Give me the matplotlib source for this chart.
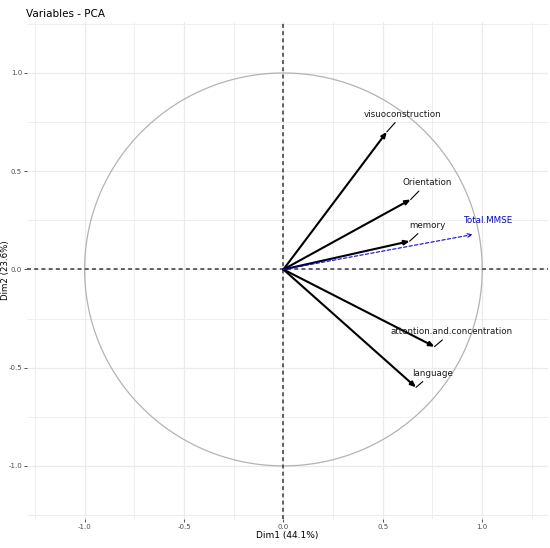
import numpy as np
import matplotlib.pyplot as plt

plt.rcParams["axes.unicode_minus"] = False

variables = ["visuoconstruction", "Orientation", "memory",
             "attention.and.concentration", "language"]
dim1 = [0.52, 0.64, 0.635, 0.76, 0.667]
dim2 = [0.70, 0.356, 0.144, -0.393, -0.60]
label_x = [0.60, 0.722, 0.722, 0.848, 0.75]
label_y = [0.79, 0.441, 0.224, -0.317, -0.529]

supp_name = "Total.MMSE"
supp_dim1 = 0.953
supp_dim2 = 0.178
supp_label = (1.027, 0.251)

fig = plt.figure(figsize=(5.5, 5.48), dpi=100)
ax = fig.add_axes([0.049, 0.053, 0.947, 0.907])

ax.set_xlim(-1.29, 1.33)
ax.set_ylim(-1.27, 1.26)

# grid like theme_minimal
for v in np.arange(-1.25, 1.3, 0.25):
    major = abs(v * 2 - round(v * 2)) < 0.01
    ax.axvline(v, color="#ebebeb", lw=0.9 if major else 0.6, zorder=0)
    ax.axhline(v, color="#ebebeb", lw=0.9 if major else 0.6, zorder=0)

t = np.linspace(0, 2 * np.pi, 400)
ax.plot(np.cos(t), np.sin(t), color="#b3b3b3", lw=0.9, zorder=1)

ax.axhline(0, color="#555555", ls=(0, (2.2, 1.8)), lw=1.3, zorder=2)
ax.axvline(0, color="#555555", ls=(0, (2.2, 1.8)), lw=1.3, zorder=2)

for name, x, y, lx, ly in zip(variables, dim1, dim2, label_x, label_y):
    ax.annotate("", xy=(x, y), xytext=(0, 0),
                arrowprops=dict(arrowstyle="-|>,head_length=0.3,head_width=0.13",
                                color="black", lw=1.5, shrinkA=0, shrinkB=0),
                zorder=3)
    ax.annotate(name, xy=(x, y), xytext=(lx, ly), ha="center", va="center",
                fontsize=6.3, color="#1a1a1a",
                arrowprops=dict(arrowstyle="-", color="black", lw=0.8,
                                shrinkA=1, shrinkB=0),
                zorder=4)

ax.annotate("", xy=(supp_dim1, supp_dim2), xytext=(0, 0),
            arrowprops=dict(arrowstyle="->,head_length=0.3,head_width=0.13",
                            color="#0000ff", lw=0.8, ls=(0, (3, 2)),
                            shrinkA=0, shrinkB=0),
            zorder=3)
ax.text(supp_label[0], supp_label[1], supp_name, ha="center", va="center",
        fontsize=6.3, color="#0000ff", zorder=4)

ax.set_xticks([-1.0, -0.5, 0.0, 0.5, 1.0])
ax.set_yticks([-1.0, -0.5, 0.0, 0.5, 1.0])
ax.tick_params(labelsize=5, labelcolor="#4d4d4d", length=2, width=0.6,
               color="#333333", pad=1.5)
for s in ax.spines.values():
    s.set_visible(False)

ax.set_xlabel("Dim1 (44.1%)", fontsize=6.5, labelpad=1)
ax.set_ylabel("Dim2 (23.6%)", fontsize=6.2)
ax.yaxis.set_label_coords(-0.032, 0.5)
fig.text(0.047, 0.975, "Variables - PCA", fontsize=7.5, ha="left", va="center")

fig.savefig("out.png", dpi=100)
